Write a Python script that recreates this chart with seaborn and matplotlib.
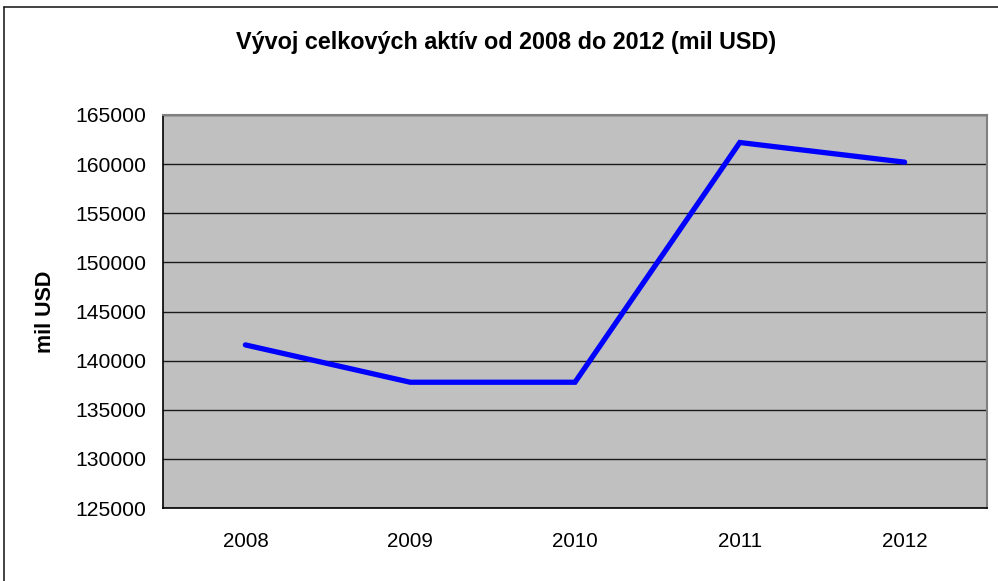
import matplotlib
matplotlib.use("Agg")
import matplotlib.pyplot as plt
import seaborn as sns
import pandas as pd
import numpy as np
from matplotlib.lines import Line2D

years = ["2008", "2009", "2010", "2011", "2012"]
values = [141600, 137800, 137800, 162200, 160200]
y_ticks = [125000, 130000, 135000, 140000, 145000, 150000, 155000, 160000, 165000]
title = "Vývoj celkových aktív od 2008 do 2012 (mil USD)"
ylabel = "mil USD"

sns.set_style("white")
plt.rcParams['font.family'] = ['Liberation Sans', 'DejaVu Sans']
plt.rcParams['text.color'] = 'black'
plt.rcParams['axes.labelcolor'] = 'black'
plt.rcParams['xtick.color'] = 'black'
plt.rcParams['ytick.color'] = 'black'

W, H = 998, 581
fig = plt.figure(figsize=(W / 100, H / 100), dpi=100)
fig.patch.set_facecolor("white")

left, right, top, bottom = 163, 987, 115, 508
ax = fig.add_axes([left / W, 1 - bottom / H, (right - left) / W, (bottom - top) / H])
ax.set_facecolor("#C0C0C0")

df = pd.DataFrame({"year": years, "value": values})
sns.lineplot(data=df, x="year", y="value", ax=ax, color="#0000FF", linewidth=3.8,
             solid_joinstyle="miter", zorder=3)

ax.set_xlim(-0.5, len(years) - 0.5)
ax.set_ylim(y_ticks[0], y_ticks[-1])
ax.set_yticks(y_ticks)
ax.set_yticklabels([str(t) for t in y_ticks])
ax.yaxis.grid(True, color="#1a1a1a", linewidth=1.0)
ax.xaxis.grid(False)
ax.set_axisbelow(True)

# x: labels in category centers, ticks at boundaries
ax.set_xticks(np.arange(-0.5, len(years), 1.0))
ax.set_xticklabels([""] * (len(years) + 1))
ax.set_xticks(np.arange(len(years)), minor=True)
ax.set_xticklabels(years, minor=True)
ax.tick_params(axis="x", which="major", direction="out", length=5, width=1, color="black")
ax.tick_params(axis="x", which="minor", length=0, pad=17, labelsize=14.8, labelcolor="black")
ax.tick_params(axis="y", direction="out", length=5, width=1, color="black", pad=7,
               labelsize=15.2, labelcolor="black")

for s in ["left", "bottom"]:
    ax.spines[s].set_color("black")
    ax.spines[s].set_linewidth(1.2)
for s in ["top", "right"]:
    ax.spines[s].set_color("#808080")
    ax.spines[s].set_linewidth(1.5)

ax.set_xlabel("")
ax.set_ylabel(ylabel, fontsize=15.5, fontweight="bold", color="black")
ax.yaxis.set_label_coords((56 - left) / (right - left), 0.5)

fig.text(506 / W, 1 - 42 / H, title, ha="center", va="center", fontsize=16.8,
         fontweight="bold", color="black")

# outer chart frame
fig.add_artist(Line2D([4 / W, 4 / W], [0, 1 - 7 / H], color="#222222", linewidth=1.2, transform=fig.transFigure))
fig.add_artist(Line2D([4 / W, 1], [1 - 7 / H, 1 - 7 / H], color="#222222", linewidth=1.2, transform=fig.transFigure))

fig.savefig("out.png", dpi=100)
